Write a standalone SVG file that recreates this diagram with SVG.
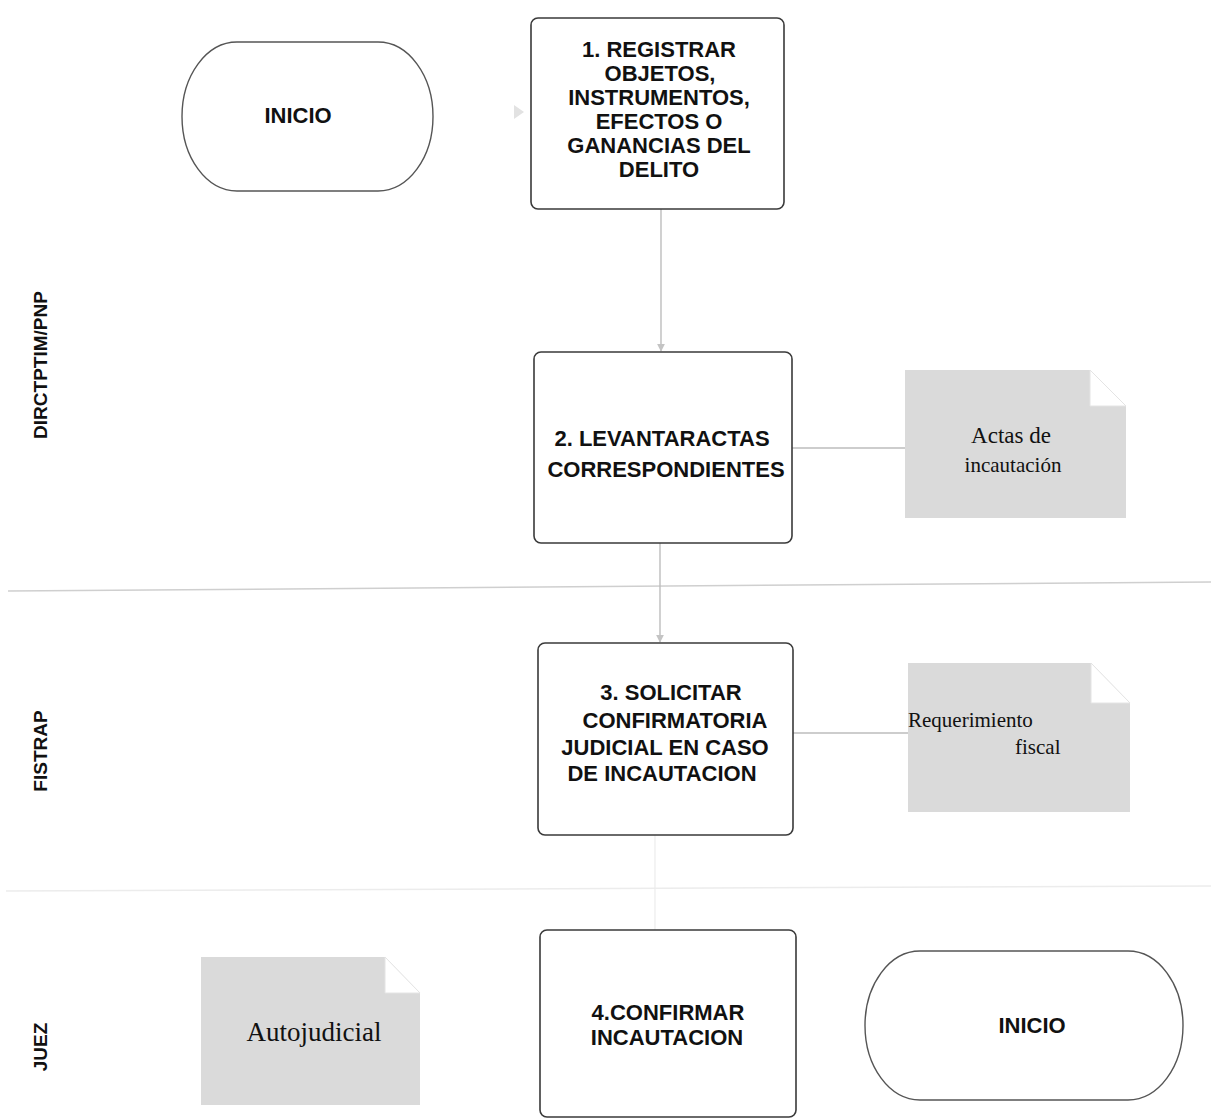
<svg xmlns="http://www.w3.org/2000/svg" width="1211" height="1120" viewBox="0 0 1211 1120">
<style>
.box{fill:#fff;stroke:#3a3a3a;stroke-width:1.6}
.term{fill:#fff;stroke:#555;stroke-width:1.4}
.doc{fill:#dadada;stroke:none}
.flap{fill:#fff;stroke:#e4e4e4;stroke-width:1}
.t{font-family:"Liberation Sans",Arial,sans-serif;font-weight:bold;font-size:22px;fill:#111;text-anchor:middle}
.s{font-family:"Liberation Serif","Times New Roman",serif;font-size:21px;fill:#111}
.lane{font-family:"Liberation Sans",Arial,sans-serif;font-weight:bold;font-size:19px;fill:#111;text-anchor:middle}
.conn{stroke:#bdbdbd;stroke-width:1.4;fill:none}
.sep{stroke:#cfcfcf;stroke-width:1.5;fill:none}
</style>
<defs>
<marker id="arr" viewBox="0 0 10 10" refX="9" refY="5" markerWidth="8" markerHeight="8" orient="auto" markerUnits="userSpaceOnUse">
<path d="M0,0 L10,5 L0,10 Z" fill="#c4c4c4"/>
</marker>
</defs>
<rect width="1211" height="1120" fill="#fff"/>

<g id="lanes">
<line class="sep" x1="8" y1="591" x2="1211" y2="582"/>
<line x1="6" y1="891" x2="1211" y2="886" stroke="#ececec" stroke-width="1.5"/>
<text class="lane" transform="translate(47,365) rotate(-90)">DIRCTPTIM/PNP</text>
<text class="lane" transform="translate(47,751) rotate(-90)">FISTRAP</text>
<text class="lane" transform="translate(47,1047) rotate(-90)">JUEZ</text>
</g>

<g id="connectors">
<path d="M514,105 L524,112 L514,119 Z" fill="#e2e2e2"/>
<line class="conn" x1="661" y1="209" x2="661" y2="351" marker-end="url(#arr)"/>
<line class="conn" x1="660" y1="543" x2="660" y2="642" marker-end="url(#arr)"/>
<line class="conn" x1="792" y1="448" x2="905" y2="448"/>
<line class="conn" x1="793" y1="733" x2="908" y2="733"/>
<line x1="655" y1="835" x2="655" y2="930" stroke="#ececec" stroke-width="1.2"/>
</g>

<g id="start">
<path class="term" d="M237,42 H378 A55,74.5 0 0 1 378,191 H237 A55,74.5 0 0 1 237,42 Z"/>
<text class="t" x="298" y="123">INICIO</text>
</g>

<g id="step1">
<rect class="box" x="531" y="18" width="253" height="191" rx="7"/>
<text class="t" x="659" y="57">1. REGISTRAR</text>
<text class="t" x="660" y="81">OBJETOS,</text>
<text class="t" x="659" y="105">INSTRUMENTOS,</text>
<text class="t" x="659" y="129">EFECTOS O</text>
<text class="t" x="659" y="153">GANANCIAS DEL</text>
<text class="t" x="659" y="177">DELITO</text>
</g>

<g id="step2">
<rect class="box" x="534" y="352" width="258" height="191" rx="7"/>
<text class="t" x="662" y="446">2. LEVANTARACTAS</text>
<text class="t" x="666" y="477">CORRESPONDIENTES</text>
</g>

<g id="doc1">
<path class="doc" d="M905,370 H1090 L1126,406 V518 H905 Z"/>
<path class="flap" d="M1090,370 L1126,406 H1090 Z"/>
<text class="s" x="1011" y="443" text-anchor="middle" style="font-size:23px">Actas de</text>
<text class="s" x="1013" y="472" text-anchor="middle">incautación</text>
</g>

<g id="step3">
<rect class="box" x="538" y="643" width="255" height="192" rx="7"/>
<text class="t" x="671" y="700">3. SOLICITAR</text>
<text class="t" x="675" y="728">CONFIRMATORIA</text>
<text class="t" x="665" y="755">JUDICIAL EN CASO</text>
<text class="t" x="662" y="781">DE INCAUTACION</text>
</g>

<g id="doc2">
<path class="doc" d="M908,663 H1091 L1130,703 V812 H908 Z"/>
<path class="flap" d="M1091,663 L1130,703 H1091 Z"/>
<text class="s" x="908" y="727">Requerimiento</text>
<text class="s" x="1015" y="754">fiscal</text>
</g>

<g id="doc3">
<path class="doc" d="M201,957 H385 L420,993 V1105 H201 Z"/>
<path class="flap" d="M385,957 L420,993 H385 Z"/>
<text class="s" x="314" y="1041" text-anchor="middle" style="font-size:27px">Autojudicial</text>
</g>

<g id="step4">
<rect class="box" x="540" y="930" width="256" height="187" rx="7"/>
<text class="t" x="668" y="1020">4.CONFIRMAR</text>
<text class="t" x="667" y="1045">INCAUTACION</text>
</g>

<g id="end">
<path class="term" d="M920,951 H1128 A55,74.5 0 0 1 1128,1100 H920 A55,74.5 0 0 1 920,951 Z"/>
<text class="t" x="1032" y="1033">INICIO</text>
</g>
</svg>
